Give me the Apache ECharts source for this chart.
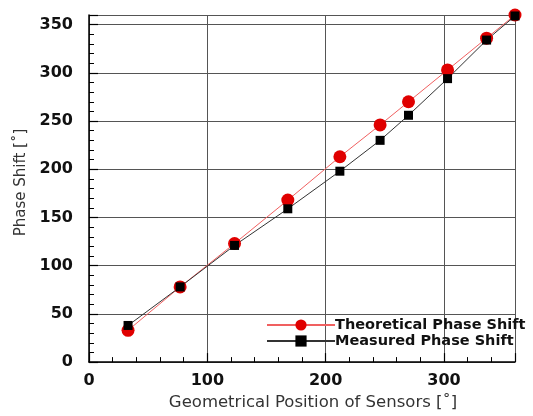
<!DOCTYPE html>
<html><head><meta charset="utf-8">
<script src="https://cdn.jsdelivr.net/npm/echarts@6/dist/echarts.min.js"></script>
<style>html,body{margin:0;padding:0;background:#fff}#c{width:533px;height:416px}</style>
</head><body><div id="c"></div>
<script>
const positions = [33, 77, 123, 168, 212, 246, 270, 303, 336, 360];
const theoretical = [33, 78, 123, 168, 213, 246, 270, 303, 336, 360];
const measured = [38, 78, 121, 159, 198, 230, 256, 294, 334, 359];
const seriesNames = ['Theoretical Phase Shift', 'Measured Phase Shift'];

const pair = (xs, ys) => xs.map((x, i) => [x, ys[i]]);
const chart = echarts.init(document.getElementById('c'));
const FONT = 'DejaVu Sans, Arial, sans-serif';
const axisCommon = {
  min: 0, max: 360,
  axisLine: {show: true, lineStyle: {color: '#000', width: 1.5}},
  axisTick: {show: true, inside: true, length: 9, lineStyle: {color: '#000', width: 1.2}},
  minorTick: {show: true, splitNumber: 5, length: 5, lineStyle: {color: '#000', width: 1}},
  splitLine: {show: true, lineStyle: {color: '#555', width: 1}},
  axisLabel: {color: '#111', fontFamily: FONT, fontWeight: 'bold', fontSize: 16, showMaxLabel: false},
  nameTextStyle: {color: '#333', fontFamily: FONT, fontSize: 15},
  nameLocation: 'middle'
};
chart.setOption({
  animation: false,
  backgroundColor: '#fff',
  grid: {left: 89, right: 18, top: 15, bottom: 53},
  xAxis: Object.assign({}, axisCommon, {type: 'value', interval: 100, name: 'Geometrical Position of Sensors [˚]', nameGap: 30,
    nameTextStyle: Object.assign({}, axisCommon.nameTextStyle, {fontSize: 16.5, padding: [0, 0, 0, 22]}),
    axisLabel: Object.assign({}, axisCommon.axisLabel, {margin: 11})}),
  yAxis: Object.assign({}, axisCommon, {type: 'value', interval: 50, name: 'Phase Shift [˚]', nameGap: 58,
    nameTextStyle: Object.assign({}, axisCommon.nameTextStyle, {padding: [0, 0, 0, 12]}),
    axisLabel: Object.assign({}, axisCommon.axisLabel, {margin: 16})}),
  legend: {
    orient: 'vertical', left: 261, top: 312, itemGap: 0, itemWidth: 68, itemHeight: 14,
    textStyle: {color: '#111', fontFamily: FONT, fontWeight: 'bold', fontSize: 14.5, lineHeight: 16, padding: [0, 0, 0, -5]},
    data: seriesNames
  },
  series: [
    {name: seriesNames[0], type: 'line', data: pair(positions, theoretical), symbol: 'circle', symbolSize: 13,
     itemStyle: {color: '#e00000'}, lineStyle: {color: '#f06060', width: 1}},
    {name: seriesNames[1], type: 'line', data: pair(positions, measured), symbol: 'rect', symbolSize: 9,
     itemStyle: {color: '#000'}, lineStyle: {color: '#333', width: 1}}
  ]
});
</script></body></html>
